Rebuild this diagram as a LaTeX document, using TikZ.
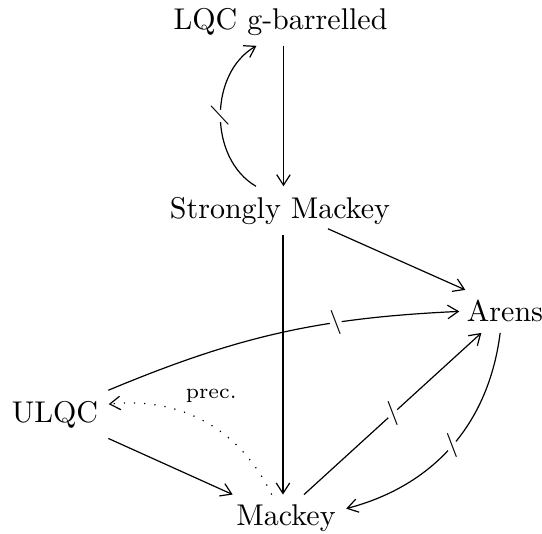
\documentclass[tikz,border=0pt]{standalone}
\usetikzlibrary{arrows.meta}
\tikzset{
  cdarrow/.style={-{Straight Barb[length=3.5pt,width=4.5pt]}},
  precline/.style={dash pattern=on 0.4pt off 3pt},
  nmark/.style={circle, fill=white, inner sep=0pt, minimum size=4pt,
    label={[font=\footnotesize, inner sep=0pt, rotate=#1]center:$\backslash$}},
  nmark/.default=0
}

\begin{document}
\begin{tikzpicture}[x=1cm, y=1cm]
  \useasboundingbox (0,0) rectangle (6.350,-6.256);

  %% Properties
  \node[anchor=base] (lqc) at (3.286,-0.340) {LQC g-barrelled};
  \node[anchor=base] (smackey) at (3.280,-2.554) {Strongly Mackey};
  \node[anchor=base] (arens) at (5.916,-3.772) {Arens};
  \node[anchor=base] (ulqc) at (0.644,-4.944) {ULQC};
  \node[anchor=base] (mackey) at (3.351,-6.162) {Mackey};

  %% Implications
  \draw[cdarrow] ([xshift=1pt]lqc.south) -- ([xshift=1pt]lqc.south |- smackey.north);
  \draw[cdarrow] ([xshift=1pt]smackey.south) -- ([xshift=1pt]smackey.south |- mackey.north);
  \draw[cdarrow] ([xshift=16pt, yshift=2pt]smackey.south) -- ([xshift=3pt]arens.north west);
  \draw[cdarrow] (ulqc) -- (mackey);
  \draw[cdarrow, precline] (mackey) to[bend right=35]
    node[pos=0.6, anchor=south west, font=\scriptsize, inner sep=1pt, xshift=-2pt, yshift=2.5pt] (prec) {prec.} (ulqc);

  %% Non-implications
  \draw[cdarrow] ([xshift=-8pt]smackey.north) to[bend left=60]
    node[nmark=22] (m1) {} ([xshift=-8pt]lqc.south);
  \draw[cdarrow] (ulqc) to[bend left=10] node[nmark, pos=0.67] (m2) {} ([xshift=1pt]arens.west);
  \draw[cdarrow] ([xshift=6pt]mackey.north) -- node[nmark] (m3) {} (arens);
  \draw[cdarrow] (arens) to[bend left=34] node[nmark] (m4) {} (mackey);

\end{tikzpicture}
\end{document}
